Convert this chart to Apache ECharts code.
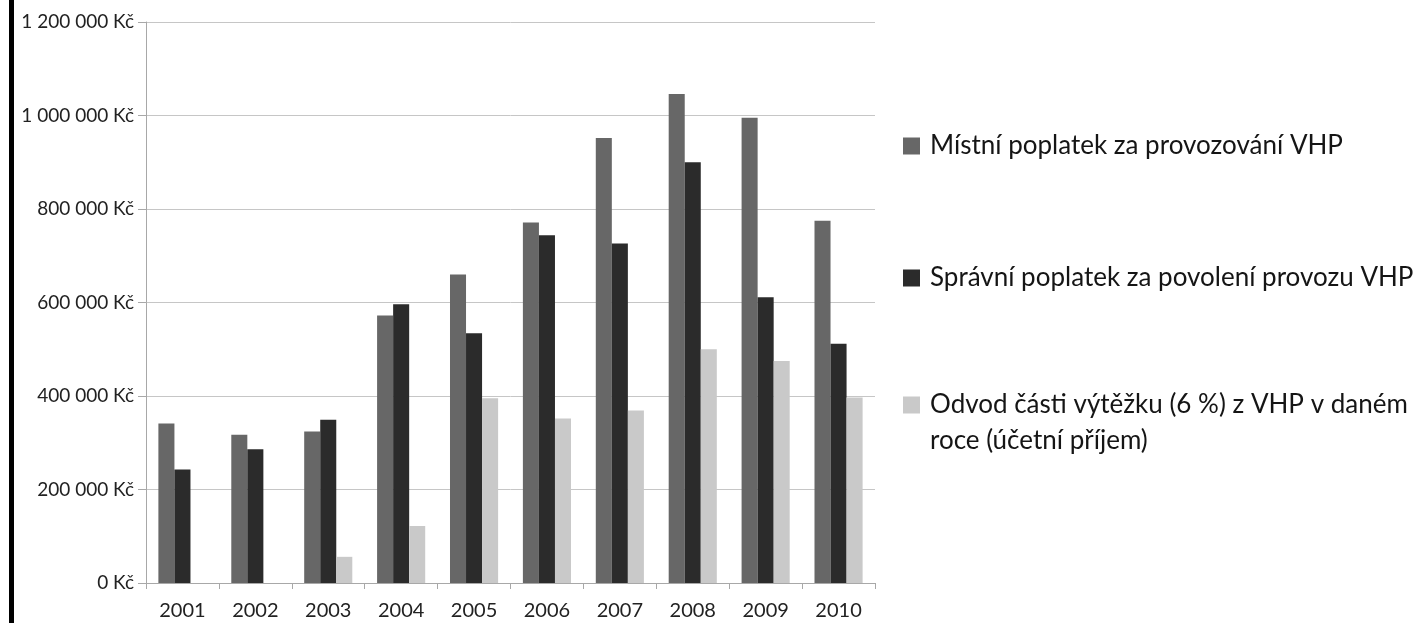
<!DOCTYPE html>
<html>
<head>
<meta charset="utf-8">
<script src="https://cdn.jsdelivr.net/npm/echarts@6/dist/echarts.min.js"></script>
<style>
html,body{margin:0;padding:0;background:#fff;}
#chart{width:1423px;height:623px;}
</style>
</head>
<body>
<div id="chart"></div>
<script>
const categories = ['2001','2002','2003','2004','2005','2006','2007','2008','2009','2010'];
const seriesNames = [
  'Místní poplatek za provozování VHP',
  'Správní poplatek za povolení provozu VHP',
  'Odvod části výtěžku (6 %) z VHP v daném roce (účetní příjem)'
];
const mistniPoplatek = [341000, 317000, 324000, 572000, 660000, 771000, 952000, 1046000, 995000, 775000];
const spravniPoplatek = [243000, 286000, 349000, 596000, 534000, 744000, 726000, 900000, 611000, 512000];
const odvodVytezku = [0, 0, 56000, 122000, 395000, 352000, 369000, 500000, 475000, 397000];
const yTicks = [0, 200000, 400000, 600000, 800000, 1000000, 1200000];

const colors = ['#676767', '#2b2b2b', '#c9c9c9'];
const font = 'Lato, "Open Sans", sans-serif';

function fmt(v) {
  return String(v).replace(/\B(?=(\d{3})+(?!\d))/g, '\u00a0') + '\u00a0Kč';
}

const chart = echarts.init(document.getElementById('chart'), null, {renderer: 'canvas'});

const legendText = {fontFamily: font, fontSize: 26, color: '#151515', lineHeight: 36, padding: [0, 0, 0, 5]};
const legendBase = {
  orient: 'vertical',
  left: 903,
  padding: 0,
  itemWidth: 17,
  itemHeight: 17,
  itemGap: 0,
  icon: 'rect',
  selectedMode: false,
  textStyle: legendText
};

chart.setOption({
  animation: false,
  backgroundColor: '#ffffff',
  color: colors,
  graphic: [{
    type: 'rect', left: 9, top: 0,
    shape: {width: 5, height: 623},
    style: {fill: '#000'}
  }],
  grid: {left: 146, right: 548, top: 22, bottom: 40, containLabel: false},
  legend: [
    Object.assign({}, legendBase, {data: [seriesNames[0]], top: 128}),
    Object.assign({}, legendBase, {data: [seriesNames[1]], top: 260}),
    Object.assign({}, legendBase, {
      data: [seriesNames[2]], top: 351,
      formatter: function (n) { return ' \nOdvod části výtěžku (6 %) z VHP v daném\nroce (účetní příjem)'; }
    })
  ],
  xAxis: {
    type: 'category',
    data: categories,
    axisLine: {show: true, lineStyle: {color: '#a8a8a8', width: 1}},
    axisTick: {show: true, length: 6, lineStyle: {color: '#a8a8a8'}},
    axisLabel: {fontFamily: font, fontSize: 20, color: '#222', margin: 18}
  },
  yAxis: {
    type: 'value',
    min: 0, max: 1200000, interval: 200000,
    axisLine: {show: true, lineStyle: {color: '#a8a8a8', width: 1}},
    axisTick: {show: true, length: 8, lineStyle: {color: '#a8a8a8'}},
    splitLine: {show: true, lineStyle: {color: '#c6c6c6', width: 1}},
    axisLabel: {
      fontFamily: font, fontSize: 19, color: '#222', margin: 12,
      formatter: function (v) { return yTicks.indexOf(v) >= 0 ? fmt(v) : ''; }
    }
  },
  series: [
    {name: seriesNames[0], type: 'bar', data: mistniPoplatek, barGap: '0%', barCategoryGap: '34%', itemStyle: {color: colors[0]}},
    {name: seriesNames[1], type: 'bar', data: spravniPoplatek, barGap: '0%', barCategoryGap: '34%', itemStyle: {color: colors[1]}},
    {name: seriesNames[2], type: 'bar', data: odvodVytezku, barGap: '0%', barCategoryGap: '34%', itemStyle: {color: colors[2]}}
  ]
});
</script>
</body>
</html>
